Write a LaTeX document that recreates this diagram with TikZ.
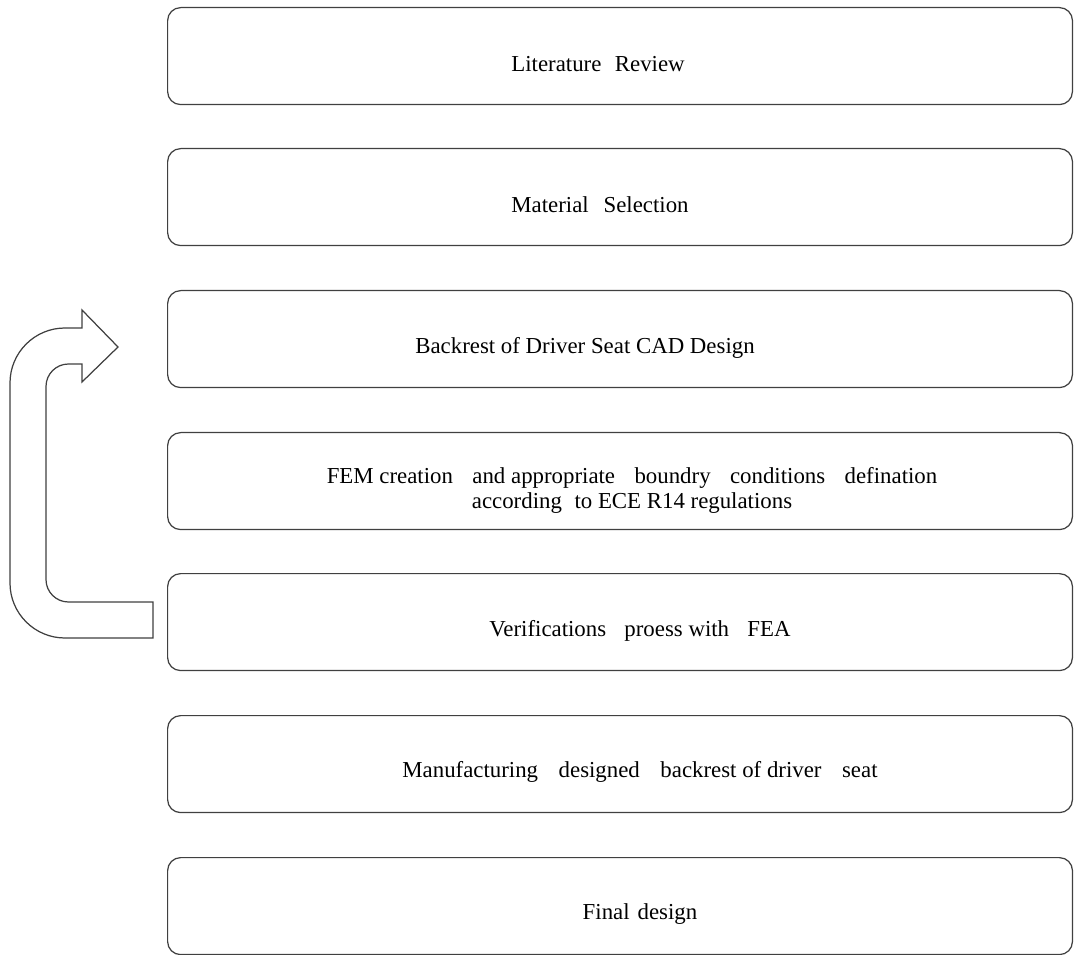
\documentclass[tikz,border=0pt]{standalone}
\usepackage{fontspec}
\setmainfont{Liberation Serif}
\newcommand{\xs}[1]{\hspace{#1em}}
\begin{document}
\begin{tikzpicture}[x=0.02cm,y=-0.02cm,
  stepbox/.style={draw=black!75,line width=0.7pt,rounded corners=0.26cm,minimum width=18.1cm,minimum height=1.94cm,anchor=north west,inner sep=0pt},
  lbl/.style={font=\fontsize{13pt}{14.2pt}\selectfont,align=center,anchor=center}]
\useasboundingbox (0,0) rectangle (1077,955);
\begin{scope}
\clip (0,0) rectangle (1077,955);
\node[stepbox] (b1) at (167,7) {};
\node[stepbox] (b2) at (167,148) {};
\node[stepbox] (b3) at (167,290) {};
\node[stepbox] (b4) at (167,432) {};
\node[stepbox] (b5) at (167,573) {};
\node[stepbox] (b6) at (167,715) {};
\node[stepbox] (b7) at (167,857) {};
\end{scope}
\node[lbl] (t1) at (598,64) {Literature\xs{0.34} Review};
\node[lbl] (t2) at (600,205) {Material\xs{0.4} Selection};
\node[lbl] (t3) at (585,348) {Backrest of Driver Seat CAD Design};
\node[lbl] (t4) at (632,490) {FEM creation\xs{0.6} and appropriate\xs{0.6} boundry\xs{0.6} conditions\xs{0.6} defination\\according\xs{0.3} to ECE R14 regulations};
\node[lbl] (t5) at (640,631) {Verifications\xs{0.55} proess with\xs{0.55} FEA};
\node[lbl] (t6) at (640,772) {Manufacturing\xs{0.65} designed\xs{0.65} backrest of driver\xs{0.65} seat};
\node[lbl] (t7) at (640,914) {Final\xs{0.1} design};
% bent return arrow
\draw[draw=black!75,line width=0.7pt,fill=white]
  (153,638) [rounded corners=1.1cm] -- (10,638) -- (10,328)
  [sharp corners] -- (82,328) -- (82,310) -- (118,347) -- (82,382) -- (82,364)
  [rounded corners=0.45cm] -- (46,364) -- (46,602) -- (100,602)
  [sharp corners] -- (153,602) -- cycle;
\end{tikzpicture}
\end{document}
